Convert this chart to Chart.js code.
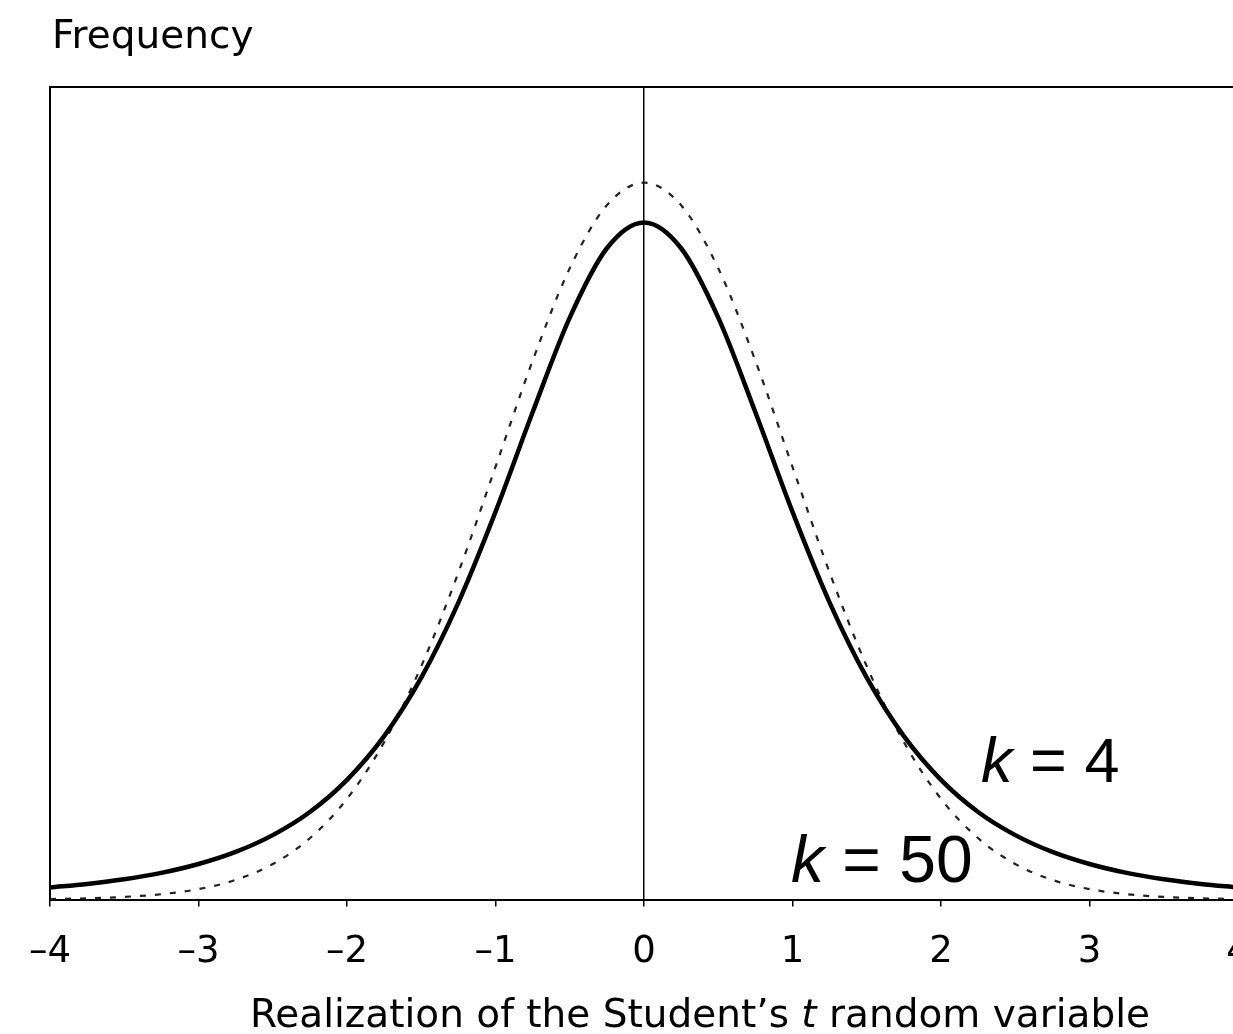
<!DOCTYPE html>
<html>
<head>
<meta charset="utf-8">
<script src="https://cdn.jsdelivr.net/npm/chart.js@4.4.1/dist/chart.umd.min.js"></script>
<style>
  html, body { margin: 0; padding: 0; background: #fff; overflow: hidden; }
  #wrap { width: 1274px; height: 1034px; }
</style>
</head>
<body>
<div id="wrap"><canvas id="tChart" width="1274" height="1034"></canvas></div>
<script>
// values (x in steps of 0.25)
const xValues = [-4, -3.75, -3.5, -3.25, -3, -2.75, -2.5, -2.25, -2, -1.75, -1.5, -1.25, -1, -0.75, -0.5, -0.25,
    0, 0.25, 0.5, 0.75, 1, 1.25, 1.5, 1.75, 2, 2.25, 2.5, 2.75, 3, 3.25, 3.5, 3.75, 4];

// k = 4 (solid)
const kFourValues = [0.0067, 0.0087, 0.0113, 0.0148, 0.0197, 0.0264, 0.0357, 0.0485, 0.0663, 0.0905, 0.1229, 0.1645,
    0.2147, 0.2699, 0.3223, 0.3607, 0.375, 0.3607, 0.3223, 0.2699, 0.2147, 0.1645, 0.1229, 0.0905,
    0.0663, 0.0485, 0.0357, 0.0264, 0.0197, 0.0148, 0.0113, 0.0087, 0.0067];

// k = 50 (dashed)
const kFiftyValues = [0.0003, 0.0007, 0.0015, 0.0030, 0.0058, 0.0109, 0.0197, 0.0340, 0.0558, 0.0872, 0.1292, 0.1811,
    0.2396, 0.2984, 0.3496, 0.3845, 0.3970, 0.3845, 0.3496, 0.2984, 0.2396, 0.1811, 0.1292, 0.0872,
    0.0558, 0.0340, 0.0197, 0.0109, 0.0058, 0.0030, 0.0015, 0.0007, 0.0003];

const xTicks = [-4, -3, -2, -1, 0, 1, 2, 3, 4];

const curveLabels = [
    { text: '4', x: 2.27, y: 0.065, size: 63 },
    { text: '50', x: 0.99, y: 0.010, size: 66 }
];

const LABEL_FONT = '"Liberation Sans", Arial, Helvetica, sans-serif';
const FONT = '"DejaVu Sans", Verdana, sans-serif';

// frame, axis titles and the k = ... labels
const framePlugin = {
    id: 'frame',
    afterDraw(chart) {
        const { ctx, chartArea: a, scales } = chart;
        ctx.save();
        ctx.strokeStyle = '#000';
        ctx.lineWidth = 2;
        ctx.beginPath();
        ctx.moveTo(a.left, a.bottom);
        ctx.lineTo(a.left, a.top);
        ctx.lineTo(a.right, a.top);
        ctx.lineTo(a.right, a.bottom);
        ctx.stroke();

        ctx.fillStyle = '#000';
        ctx.textBaseline = 'alphabetic';

        // y title, top left
        ctx.font = `39px ${FONT}`;
        ctx.textAlign = 'left';
        ctx.fillText('Frequency', a.left + 2, 48);

        // x title with italic t
        const parts = [
            { t: 'Realization of the Student\u2019s ', f: `39px ${FONT}` },
            { t: 't', f: `italic 39px ${FONT}` },
            { t: ' random variable', f: `39px ${FONT}` }
        ];
        let total = 0;
        parts.forEach(p => { ctx.font = p.f; p.w = ctx.measureText(p.t).width; total += p.w; });
        let px = 700 - total / 2;
        parts.forEach(p => { ctx.font = p.f; ctx.fillText(p.t, px, 1027); px += p.w; });

        curveLabels.forEach(l => {
            const lx = scales.x.getPixelForValue(l.x);
            const ly = scales.y.getPixelForValue(l.y);
            ctx.font = `italic ${l.size}px ${LABEL_FONT}`;
            ctx.fillText('k', lx, ly);
            const w = ctx.measureText('k').width;
            ctx.font = `${l.size}px ${LABEL_FONT}`;
            ctx.fillText(' = ' + l.text, lx + w, ly);
        });
        ctx.restore();
    }
};

const ctx = document.getElementById('tChart').getContext('2d');
new Chart(ctx, {
    type: 'line',
    data: {
        datasets: [
            {
                label: 'k = 4',
                data: xValues.map((x, i) => ({ x: x, y: kFourValues[i] })),
                borderColor: '#000',
                borderWidth: 4.5,
                pointRadius: 0,
                fill: false,
                cubicInterpolationMode: 'monotone'
            },
            {
                label: 'k = 50',
                data: xValues.map((x, i) => ({ x: x, y: kFiftyValues[i] })),
                borderColor: '#222',
                borderWidth: 2.2,
                borderDash: [6, 9],
                pointRadius: 0,
                fill: false,
                cubicInterpolationMode: 'monotone'
            }
        ]
    },
    options: {
        responsive: false,
        animation: false,
        devicePixelRatio: 1,
        layout: { padding: { left: 50, right: 36, top: 87, bottom: 35 } },
        plugins: {
            legend: { display: false },
            tooltip: { enabled: false },
            title: { display: false }
        },
        scales: {
            x: {
                type: 'linear',
                min: -4,
                max: 4,
                afterBuildTicks: (axis) => { axis.ticks = xTicks.map(v => ({ value: v })); },
                border: { display: true, color: '#000', width: 2 },
                grid: {
                    drawOnChartArea: true,
                    color: (c) => (c.tick && c.tick.value === 0 ? '#000' : 'rgba(0,0,0,0)'),
                    lineWidth: 1.5,
                    tickColor: '#000',
                    tickLength: 7,
                    tickWidth: 1.5
                },
                ticks: {
                    color: '#000',
                    padding: 24,
                    maxRotation: 0,
                    autoSkip: false,
                    font: { family: FONT, size: 37, lineHeight: 1.2 },
                    callback: (v) => (v < 0 ? '\u2013' + Math.abs(v) : String(v))
                }
            },
            y: {
                display: false,
                min: 0,
                max: 0.45
            }
        }
    },
    plugins: [framePlugin]
});
</script>
</body>
</html>
